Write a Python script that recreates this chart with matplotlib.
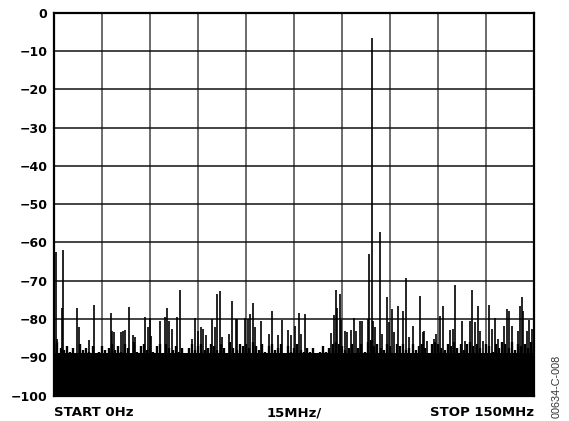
import numpy as np
import matplotlib.pyplot as plt

plt.rcParams['font.family'] = ['DejaVu Sans']

# noise floor of the sweep, one reading per MHz (0..150 MHz), dBc
floor_db = [
    -86.5, -86.0, -87.5, -88.0, -87.0, -88.5, -87.5, -89.0, -86.5, -88.0,
    -87.5, -88.5, -87.0, -89.0, -88.5, -87.0, -88.0, -87.5, -86.5, -88.0,
    -87.0, -88.5, -86.5, -87.5, -89.0, -86.0, -88.5, -87.0, -86.5, -88.0,
    -87.5, -88.5, -87.0, -86.5, -89.0, -86.5, -87.5, -88.0, -87.0, -88.5,
    -87.5, -89.0, -87.5, -86.5, -88.0, -87.0, -86.5, -88.0, -87.5, -86.5,
    -87.0, -88.0, -86.5, -87.5, -89.0, -86.0, -87.5, -88.0, -86.5, -87.0,
    -86.5, -87.5, -86.0, -87.0, -88.0, -86.5, -88.5, -87.0, -86.5, -88.0,
    -87.5, -86.5, -89.0, -87.0, -88.5, -87.5, -86.5, -88.0, -88.5, -87.5,
    -88.5, -87.5, -89.0, -88.5, -87.0, -88.5, -87.5, -86.5, -86.0, -86.5,
    -87.0, -88.0, -87.5, -86.5, -89.0, -87.5, -86.5, -88.5, -86.0, -85.5,
    -87.0, -86.5, -87.5, -88.0, -86.5, -87.0, -89.0, -86.5, -87.0, -86.5,
    -88.0, -87.5, -86.5, -88.0, -87.0, -86.5, -87.5, -89.0, -86.5, -86.0,
    -86.5, -87.5, -88.0, -86.5, -87.0, -86.0, -87.5, -86.5, -88.0, -86.5,
    -86.0, -87.0, -86.5, -87.5, -89.0, -86.5, -87.0, -88.5, -86.5, -87.5,
    -86.0, -86.5, -87.5, -86.0, -88.0, -86.5, -87.0, -86.5, -87.5, -86.0,
    -87.0,
]
floor_mhz = np.arange(len(floor_db))
solid_db = -89.0  # level below which the trace fills solid

# spurs and the carrier, frequency (MHz) and level (dBc)
spur_mhz = [
    0.5, 1.0, 2.3, 2.8, 7.0, 7.8, 10.9, 12.4, 17.6, 18.0,
    18.6, 20.8, 21.4, 22.2, 23.3, 24.5, 25.3, 28.4, 29.2, 29.8,
    30.2, 33.1, 34.7, 35.2, 35.8, 36.8, 38.4, 39.3, 43.1, 43.9,
    44.9, 45.8, 46.5, 47.3, 49.4, 50.1, 50.9, 51.7, 52.5, 54.6,
    55.6, 56.7, 57.1, 59.6, 60.4, 61.2, 62.0, 62.7, 64.6, 67.0,
    67.9, 69.8, 71.1, 72.9, 74.0, 75.3, 76.4, 77.2, 78.2, 86.6,
    87.4, 87.9, 88.4, 89.2, 89.7, 90.8, 91.5, 92.8, 93.6, 94.4,
    95.4, 96.1, 98.0, 98.4, 99.2, 99.7, 100.2, 101.8, 102.3, 104.1,
    104.7, 105.4, 106.2, 107.5, 108.9, 109.8, 110.8, 112.2, 114.3, 115.1,
    115.4, 116.5, 118.6, 119.3, 120.6, 121.5, 123.8, 124.6, 125.3, 127.4,
    128.2, 129.8, 130.5, 131.4, 132.3, 133.1, 134.1, 135.9, 136.7, 137.7,
    138.7, 140.5, 141.4, 142.2, 142.9, 145.0, 145.5, 146.1, 146.6, 147.6,
    148.4, 149.2,
]
spur_db = [
    -62.6, -85.2, -77.0, -61.9, -77.0, -82.2, -85.5, -76.3, -78.3, -83.0,
    -83.5, -83.3, -83.0, -82.9, -76.8, -84.1, -84.6, -79.4, -82.2, -79.7,
    -84.4, -80.4, -79.4, -77.1, -80.4, -82.6, -79.6, -72.4, -85.2, -79.7,
    -83.0, -82.2, -82.6, -84.1, -80.0, -82.2, -73.5, -72.6, -84.6, -83.9,
    -75.2, -80.0, -80.0, -79.7, -80.0, -78.7, -75.7, -82.2, -80.6, -83.9,
    -78.0, -84.1, -80.3, -82.9, -84.1, -81.7, -78.3, -83.9, -78.7, -83.7,
    -78.9, -72.4, -77.1, -73.5, -80.3, -83.0, -83.5, -82.9, -79.7, -83.0,
    -80.4, -80.4, -80.0, -63.0, -6.5, -80.4, -82.0, -57.4, -83.9, -74.3,
    -80.9, -77.4, -83.5, -76.5, -77.8, -69.4, -84.6, -81.7, -73.9, -83.5,
    -83.0, -85.7, -85.2, -83.9, -79.1, -76.5, -82.9, -82.6, -71.0, -80.6,
    -85.7, -80.4, -72.4, -80.9, -76.5, -83.0, -85.7, -76.3, -82.6, -79.7,
    -85.2, -81.7, -77.4, -77.8, -81.7, -83.0, -76.5, -74.3, -77.8, -83.0,
    -80.3, -82.6,
]

y_ticks = [0, -10, -20, -30, -40, -50, -60, -70, -80, -90, -100]
x_labels = ['START 0Hz', '15MHz/', 'STOP 150MHz']

fig = plt.figure(figsize=(5.69, 4.21), dpi=100)
ax = fig.add_axes([0.0954, 0.0603, 0.8436, 0.9097])

# grid: 10 x 10 divisions
for f in np.arange(15, 150, 15):
    ax.axvline(f, color='#444444', lw=1.1, zorder=1)
for t in y_ticks[1:-1]:
    ax.axhline(t, color='#111111', lw=1.1, zorder=1)

# trace: solid base, comb of floor readings, then the spurs
ax.fill_between([0, 150], -100, solid_db, color='black', lw=0, zorder=2)
ax.vlines(floor_mhz, -100, floor_db, color='black', lw=1.7, zorder=2)
ax.vlines(spur_mhz, -100, spur_db, color='black', lw=1.2, zorder=3)

ax.set_xlim(0, 150)
ax.set_ylim(-100, 0)
ax.set_yticks(y_ticks)
ax.set_yticklabels([str(t).replace('-', '\u2212') for t in y_ticks],
                   fontsize=9, fontweight='bold')
ax.set_xticks([])
ax.tick_params(axis='y', length=0, pad=5)
for s in ax.spines.values():
    s.set_linewidth(1.6)

ax.text(0, -102.8, x_labels[0], ha='left', va='top', fontsize=9.5, fontweight='bold')
ax.text(75, -102.8, x_labels[1], ha='center', va='top', fontsize=9.5, fontweight='bold')
ax.text(150, -102.8, x_labels[2], ha='right', va='top', fontsize=9.5, fontweight='bold')

fig.text(557 / 569, 1 - 386 / 421, '00634-C-008', rotation=90, ha='center', va='center',
         fontsize=7.8, color='#333333', family='Liberation Sans')

fig.savefig('out.png', dpi=100)
